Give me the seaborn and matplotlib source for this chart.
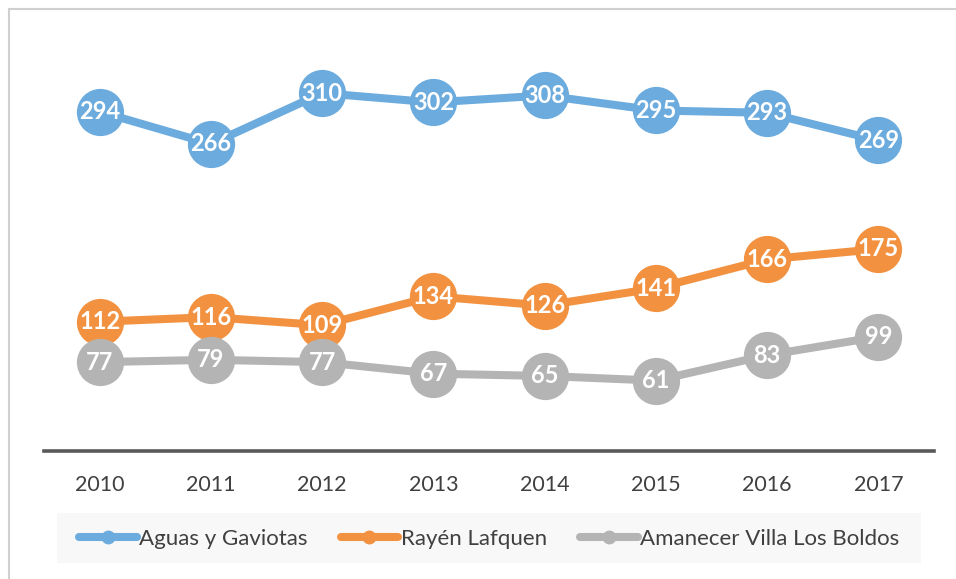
import matplotlib
matplotlib.use("Agg")
import matplotlib.pyplot as plt
import seaborn as sns
import pandas as pd
from matplotlib.patches import Rectangle
from matplotlib.lines import Line2D

years = ["2010", "2011", "2012", "2013", "2014", "2015", "2016", "2017"]
series_names = ["Aguas y Gaviotas", "Rayén Lafquen", "Amanecer Villa Los Boldos"]
aguas = [294, 266, 310, 302, 308, 295, 293, 269]
rayen = [112, 116, 109, 134, 126, 141, 166, 175]
amanecer = [77, 79, 77, 67, 65, 61, 83, 99]
colors = ["#6CABDD", "#F29241", "#B4B4B4"]

sns.set_theme(style="white")
plt.rcParams["font.family"] = ["Lato", "DejaVu Sans"]

df = pd.DataFrame({
    "year": years * 3,
    "x": list(range(len(years))) * 3,
    "value": aguas + rayen + amanecer,
    "series": sum([[n] * len(years) for n in series_names], []),
})

fig = plt.figure(figsize=(9.56, 5.79), dpi=100)
ax = fig.add_axes([44 / 956, 1 - 451 / 579, 890 / 956, (451 - 47) / 579])

sns.lineplot(data=df, x="x", y="value", hue="series", hue_order=series_names,
             palette=colors, marker="o", markersize=34, linewidth=5.8,
             markeredgewidth=0, legend=False, ax=ax)

for vals in (aguas, rayen, amanecer):
    for i, v in enumerate(vals):
        ax.text(i, v, str(v), ha="center", va="center", color="white",
                fontsize=17, fontweight="bold", zorder=10)

ax.set_xlim(-0.5, len(years) - 0.5)
ax.set_ylim(0, 350)
ax.set_xticks(range(len(years)))
ax.set_xticklabels(years, fontsize=15.5, color="#404040")
ax.set_yticks([])
ax.set_xlabel("")
ax.set_ylabel("")
ax.tick_params(axis="x", length=0, pad=17)
for side in ("top", "left", "right"):
    ax.spines[side].set_visible(False)
ax.spines["bottom"].set_color("#595959")
ax.spines["bottom"].set_linewidth(2.6)
ax.patch.set_alpha(0)

# chart frame (left and top edges)
fig.add_artist(Line2D([9 / 956, 9 / 956], [0, 1 - 9 / 579], color="#D0D0D0", lw=1.5))
fig.add_artist(Line2D([9 / 956, 1], [1 - 9 / 579, 1 - 9 / 579], color="#D0D0D0", lw=1.5))

# legend background band
fig.add_artist(Rectangle((57 / 956, 1 - 563 / 579), (921 - 57) / 956, 50 / 579,
                         facecolor="#F8F8F8", edgecolor="none", zorder=0))

handles = [Line2D([0], [0], color=c, lw=5.8, marker="o", markersize=10,
                  markeredgewidth=0) for c in colors]
fig.legend(handles, series_names, loc="center", bbox_to_anchor=(489 / 956, 1 - 539 / 579),
           ncol=3, frameon=False, fontsize=16, handlelength=2.6, handletextpad=0.1,
           columnspacing=1.5, labelcolor="#404040")

fig.savefig("out.png", dpi=100)
